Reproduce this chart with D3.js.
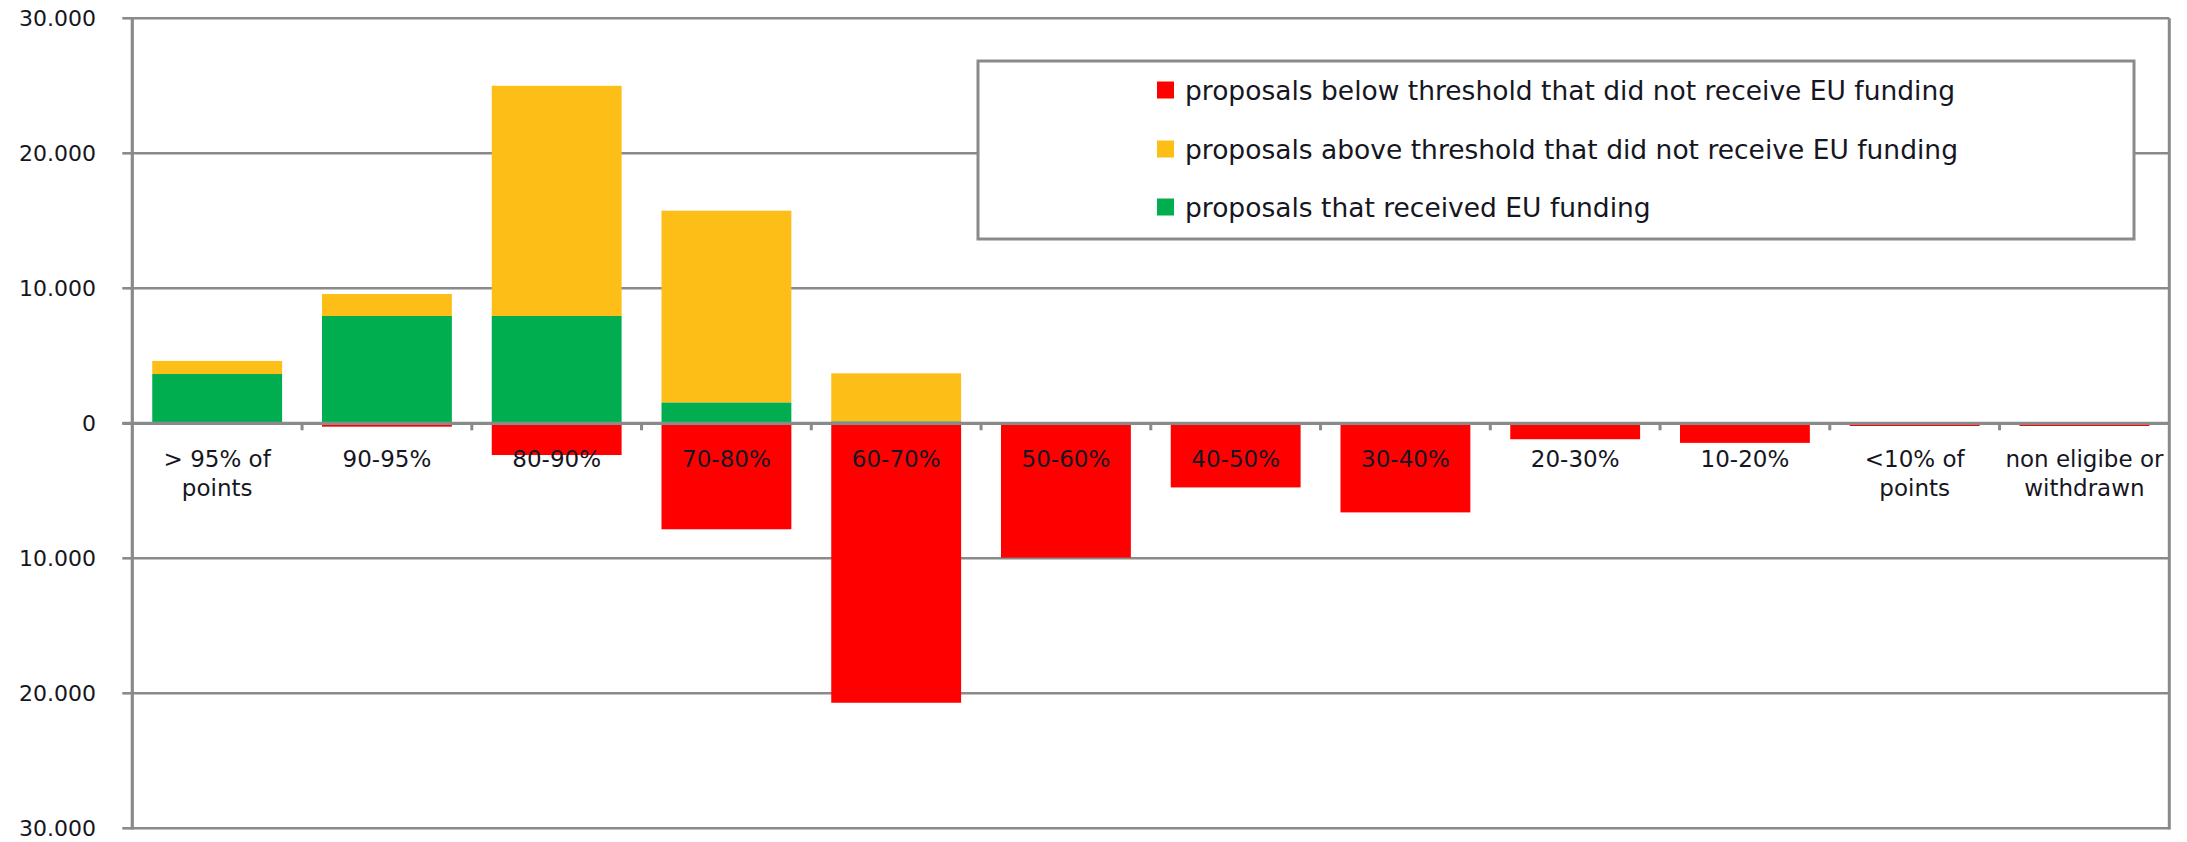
<!DOCTYPE html>
<html>
<head>
<meta charset="utf-8">
<script src="https://cdn.jsdelivr.net/npm/d3@7"></script>
<style>
  html, body { margin: 0; padding: 0; background: #ffffff; }
  svg { display: block; }
  text { font-family: "DejaVu Sans", "Open Sans", sans-serif; fill: #161622; }
</style>
</head>
<body>
<svg id="chart" width="2187" height="842"></svg>
<script>
// ---- data ----
const categories = [
  "> 95% of\npoints", "90-95%", "80-90%", "70-80%", "60-70%", "50-60%",
  "40-50%", "30-40%", "20-30%", "10-20%", "<10% of\npoints", "non eligibe or\nwithdrawn"
];
const funded        = [3650, 7950, 7950, 1550, 150, 0, 0, 0, 0, 0, 0, 0];
const aboveNotFunded = [970, 1630, 17050, 14200, 3550, 0, 0, 0, 0, 0, 0, 0];
const belowNotFunded = [0, 250, 2350, 7850, 20700, 9950, 4750, 6600, 1180, 1450, 200, 200];
const yTickValues = [30000, 20000, 10000, 0, -10000, -20000, -30000];
const seriesNames = [
  "proposals below threshold that did not receive EU funding",
  "proposals above threshold that did not receive EU funding",
  "proposals that received EU funding"
];
const seriesKeys = ["below", "above", "funded"];
const colors = { below: "#ff0000", above: "#fcbe17", funded: "#00ae50" };

// ---- layout ----
const svg = d3.select("#chart");
const X0 = 132.3, X1 = 2169.3, Y0 = 18.3, Y1 = 828.3;
const gridColor = "#8a8a8a";

const x = d3.scaleBand().domain(categories).range([X0, X1])
  .paddingInner(0.235).paddingOuter(0.1175);
const y = d3.scaleLinear().domain([-30000, 30000]).range([Y1, Y0]);

const locale = d3.formatLocale({ decimal: ",", thousands: ".", grouping: [3], currency: ["", ""] });
const fmt = locale.format(",");

// gridlines
svg.append("g").selectAll("line").data(yTickValues.filter(v => v !== 0)).join("line")
  .attr("x1", X0).attr("x2", X1)
  .attr("y1", d => y(d)).attr("y2", d => y(d))
  .attr("stroke", gridColor).attr("stroke-width", 2.6);

// stacked bars
const rows = categories.map((c, i) => ({
  cat: c, funded: funded[i], above: aboveNotFunded[i], below: -belowNotFunded[i]
}));
const stack = d3.stack().keys(["funded", "above", "below"]).offset(d3.stackOffsetDiverging);
const series = stack(rows);
svg.append("g").selectAll("g").data(series).join("g")
  .attr("fill", d => colors[d.key])
  .selectAll("rect").data(d => d).join("rect")
  .attr("x", d => x(d.data.cat))
  .attr("width", x.bandwidth())
  .attr("y", d => y(Math.max(d[0], d[1])))
  .attr("height", d => Math.abs(y(d[0]) - y(d[1])));

// zero axis line
svg.append("line").attr("x1", X0 - 10).attr("x2", X1)
  .attr("y1", y(0)).attr("y2", y(0))
  .attr("stroke", gridColor).attr("stroke-width", 3.2);

// x ticks between categories
svg.append("g").selectAll("line").data(categories.slice(1)).join("line")
  .attr("x1", d => x(d) - x.step() * x.paddingOuter())
  .attr("x2", d => x(d) - x.step() * x.paddingOuter())
  .attr("y1", y(0)).attr("y2", y(0) + 7)
  .attr("stroke", gridColor).attr("stroke-width", 3);

// y axis line, right border
svg.append("line").attr("x1", X0).attr("x2", X0).attr("y1", Y0 - 1).attr("y2", Y1 + 1.3)
  .attr("stroke", gridColor).attr("stroke-width", 3.2);
svg.append("line").attr("x1", X1).attr("x2", X1).attr("y1", Y0).attr("y2", Y1 + 1.3)
  .attr("stroke", gridColor).attr("stroke-width", 3);

// y ticks & labels
const yAxisG = svg.append("g");
yAxisG.selectAll("line").data(yTickValues).join("line")
  .attr("x1", X0 - 10).attr("x2", X0)
  .attr("y1", d => y(d)).attr("y2", d => y(d))
  .attr("stroke", gridColor).attr("stroke-width", 2.6);
yAxisG.selectAll("text").data(yTickValues).join("text")
  .attr("x", 96).attr("y", d => y(d))
  .attr("text-anchor", "end").attr("dominant-baseline", "central")
  .attr("font-size", 22)
  .text(d => fmt(Math.abs(d)));

// x labels
const xl = svg.append("g").selectAll("text").data(categories).join("text")
  .attr("text-anchor", "middle").attr("font-size", 23)
  .attr("x", d => x(d) + x.bandwidth() / 2).attr("y", 467);
xl.selectAll("tspan").data(d => d.split("\n")).join("tspan")
  .attr("x", function () { return d3.select(this.parentNode).attr("x"); })
  .attr("dy", (d, i) => i === 0 ? 0 : 29)
  .text(d => d);

// legend
const lg = svg.append("g");
lg.append("rect").attr("x", 978).attr("y", 61).attr("width", 1156).attr("height", 178)
  .attr("fill", "#ffffff").attr("stroke", gridColor).attr("stroke-width", 3);
const legendY = [90, 149, 207];
const li = lg.selectAll("g.item").data(seriesKeys).join("g").attr("class", "item")
  .attr("transform", (d, i) => `translate(1157,${legendY[i]})`);
li.append("rect").attr("x", 0).attr("y", -8.5).attr("width", 17).attr("height", 17)
  .attr("fill", d => colors[d]);
li.append("text").attr("x", 28).attr("y", 0).attr("dominant-baseline", "central")
  .attr("font-size", 26.5)
  .text((d, i) => seriesNames[i]);
</script>
</body>
</html>
